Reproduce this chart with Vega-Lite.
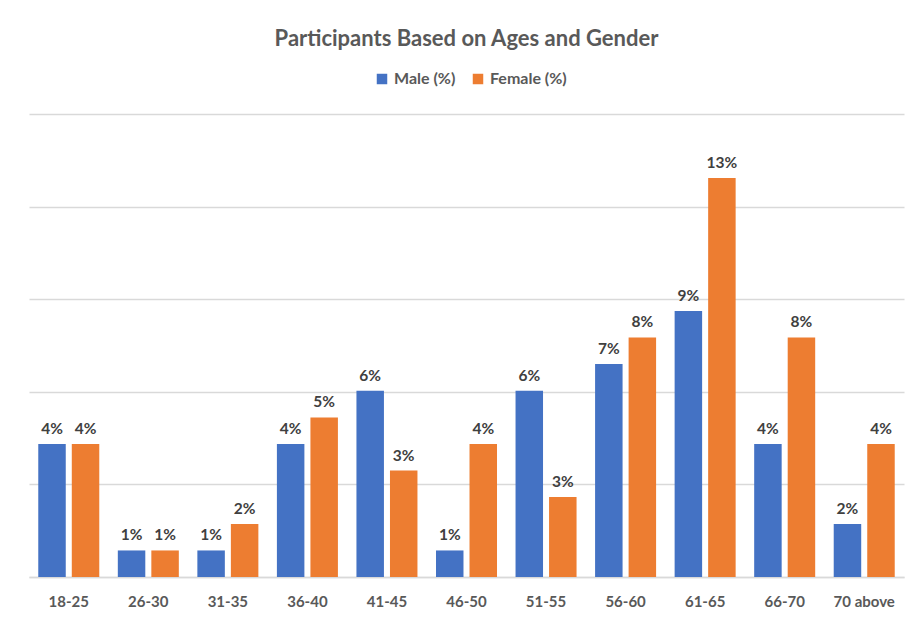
{
  "$schema": "https://vega.github.io/schema/vega-lite/v6.json",
  "width": 875,
  "height": 463,
  "autosize": "none",
  "padding": {"left": 29, "top": 114, "right": 10, "bottom": 44},
  "background": "white",
  "title": {
    "text": "Participants Based on Ages and Gender",
    "font": "Lato",
    "fontSize": 22,
    "fontWeight": "bold",
    "color": "#595959",
    "anchor": "middle",
    "frame": "group",
    "offset": 20
  },
  "data": {
    "values": [
      {"age": "18-25", "gender": "Male (%)", "value": 0.0431},
      {"age": "26-30", "gender": "Male (%)", "value": 0.0086},
      {"age": "31-35", "gender": "Male (%)", "value": 0.0086},
      {"age": "36-40", "gender": "Male (%)", "value": 0.0431},
      {"age": "41-45", "gender": "Male (%)", "value": 0.0603},
      {"age": "46-50", "gender": "Male (%)", "value": 0.0086},
      {"age": "51-55", "gender": "Male (%)", "value": 0.0603},
      {"age": "56-60", "gender": "Male (%)", "value": 0.0690},
      {"age": "61-65", "gender": "Male (%)", "value": 0.0862},
      {"age": "66-70", "gender": "Male (%)", "value": 0.0431},
      {"age": "70 above", "gender": "Male (%)", "value": 0.0172},
      {"age": "18-25", "gender": "Female (%)", "value": 0.0431},
      {"age": "26-30", "gender": "Female (%)", "value": 0.0086},
      {"age": "31-35", "gender": "Female (%)", "value": 0.0172},
      {"age": "36-40", "gender": "Female (%)", "value": 0.0517},
      {"age": "41-45", "gender": "Female (%)", "value": 0.0345},
      {"age": "46-50", "gender": "Female (%)", "value": 0.0431},
      {"age": "51-55", "gender": "Female (%)", "value": 0.0259},
      {"age": "56-60", "gender": "Female (%)", "value": 0.0776},
      {"age": "61-65", "gender": "Female (%)", "value": 0.1293},
      {"age": "66-70", "gender": "Female (%)", "value": 0.0776},
      {"age": "70 above", "gender": "Female (%)", "value": 0.0431}
    ]
  },
  "encoding": {
    "x": {
      "field": "age",
      "type": "nominal",
      "sort": null,
      "scale": {"paddingInner": 0.233, "paddingOuter": 0.1165},
      "axis": {
        "title": null,
        "labelAngle": 0,
        "labelFont": "Lato",
        "labelFontSize": 15,
        "labelFontWeight": "bold",
        "labelColor": "#595959",
        "labelPadding": 17,
        "ticks": false,
        "domainColor": "#D9D9D9",
        "domainWidth": 1.5
      }
    },
    "xOffset": {
      "field": "gender",
      "type": "nominal",
      "sort": ["Male (%)", "Female (%)"],
      "scale": {"paddingInner": 0.18, "paddingOuter": 0}
    },
    "y": {
      "field": "value",
      "type": "quantitative",
      "scale": {"domain": [0, 0.15]},
      "axis": {
        "title": null,
        "labels": false,
        "ticks": false,
        "domain": false,
        "values": [0, 0.03, 0.06, 0.09, 0.12, 0.15],
        "gridColor": "#D9D9D9",
        "gridWidth": 1.5
      }
    }
  },
  "layer": [
    {
      "mark": {"type": "bar"},
      "encoding": {
        "color": {
          "field": "gender",
          "type": "nominal",
          "sort": ["Male (%)", "Female (%)"],
          "scale": {"domain": ["Male (%)", "Female (%)"], "range": ["#4472C4", "#ED7D31"]},
          "legend": {
            "title": null,
            "orient": "none",
            "direction": "horizontal",
            "legendX": 345,
            "legendY": -43,
            "symbolType": "square",
            "symbolSize": 110,
            "symbolStrokeWidth": 0,
            "labelFont": "Lato",
            "labelFontSize": 16,
            "labelFontWeight": "bold",
            "labelColor": "#595959",
            "columnPadding": 14,
            "labelOffset": 4
          }
        }
      }
    },
    {
      "mark": {"type": "text", "baseline": "bottom", "dy": -7, "font": "Lato", "fontSize": 15.5, "fontWeight": "bold", "color": "#404040"},
      "encoding": {
        "text": {"field": "value", "type": "quantitative", "format": ".0%"}
      }
    }
  ],
  "config": {
    "view": {"stroke": null}
  }
}
